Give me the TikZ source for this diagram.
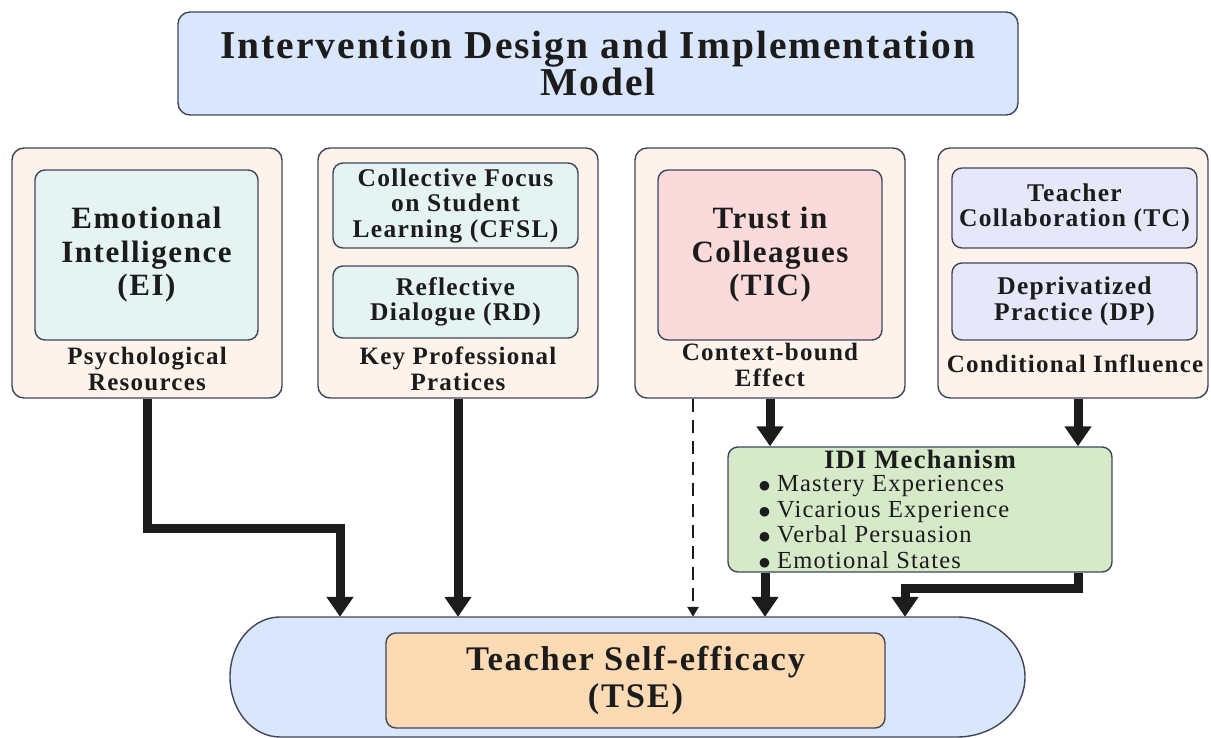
\documentclass[tikz,border=0pt]{standalone}
\usepackage{fontspec}
\setmainfont{Liberation Serif}[LetterSpace=5]
\newfontfamily\dotfont{DejaVu Sans}
\usetikzlibrary{arrows.meta}

\definecolor{edge}{HTML}{40465A}
\definecolor{ink}{HTML}{1C1C1C}
\definecolor{titlefill}{HTML}{DAE6FB}
\definecolor{creamfill}{HTML}{FDF3EA}
\definecolor{tealfill}{HTML}{E5F4F2}
\definecolor{pinkfill}{HTML}{FADADB}
\definecolor{lavfill}{HTML}{E6E8FA}
\definecolor{greenfill}{HTML}{D6E9C9}
\definecolor{pillfill}{HTML}{D9E6FB}
\definecolor{peachfill}{HTML}{FCDAB4}

% round list marker
\newcommand\itemdot{\raisebox{2pt}{\dotfont\fontsize{12.5}{12.5}\selectfont ●}\hspace{7pt}}

\tikzset{
  panel/.style={draw=edge, line width=1.4pt, rounded corners=12pt, inner sep=0pt,
    fill=creamfill},
  inbox/.style={draw=edge, line width=1.4pt, rounded corners=10pt, inner sep=0pt,
    align=center, text=ink},
  bigtxt/.style={font=\bfseries\fontsize{31}{33.5}\selectfont},
  midtxt/.style={font=\bfseries\fontsize{25.5}{25.5}\selectfont},
  caption/.style={align=center, text=ink, inner sep=0pt,
    font=\bfseries\fontsize{25}{26}\selectfont},
  flow/.style={draw=ink, line width=9pt, -{Triangle[width=26pt,length=20pt]}},
  weakflow/.style={draw=ink, line width=2.6pt, dash pattern=on 13pt off 8pt,
    -{Triangle[width=11pt,length=10pt]}},
}

\begin{document}
\begin{tikzpicture}[x=1pt,y=-1pt]
\useasboundingbox (0,0) rectangle (1211,738);

% heading
\node[draw=edge, line width=1.4pt, rounded corners=12pt, fill=titlefill,
  minimum width=840, minimum height=103, inner sep=0pt, align=center, text=ink,
  font=\bfseries\fontsize{39.5}{37}\selectfont]
  (title) at (598,63.5) {Intervention Design and Implementation\\Model};

% column 1
\node[panel, minimum width=270, minimum height=250] (box1) at (147,273) {};
\node[inbox, fill=tealfill, minimum width=223, minimum height=170, bigtxt]
  (ei) at (146.5,255) {Emotional\\Intelligence\\(EI)};
\node[caption] (cap1) at (147,369) {Psychological\\Resources};

% column 2
\node[panel, minimum width=280, minimum height=250] (box2) at (458,273) {};
\node[inbox, fill=tealfill, minimum width=245, minimum height=85, midtxt]
  (cfsl) at (455.5,205.5) {Collective Focus\\on Student\\Learning (CFSL)};
\node[inbox, fill=tealfill, minimum width=245, minimum height=72, midtxt]
  (rd) at (455.5,302) {Reflective\\Dialogue (RD)};
\node[caption] (cap2) at (458,369) {Key Professional\\Pratices};

% column 3
\node[panel, minimum width=270, minimum height=250] (box3) at (770,273) {};
\node[inbox, fill=pinkfill, minimum width=224, minimum height=170, bigtxt]
  (tic) at (770,255) {Trust in\\Colleagues\\(TIC)};
\node[caption] (cap3) at (770,365) {Context-bound\\Effect};

% column 4
\node[panel, minimum width=270, minimum height=250] (box4) at (1073,273) {};
\node[inbox, fill=lavfill, minimum width=245, minimum height=80, midtxt]
  (tc) at (1074.5,208) {Teacher\\Collaboration (TC)};
\node[inbox, fill=lavfill, minimum width=245, minimum height=77, midtxt]
  (dp) at (1074.5,301.5) {Deprivatized\\Practice (DP)};
\node[caption] (cap4) at (1075,364) {Conditional Influence};

% mechanism box
\node[draw=edge, line width=1.4pt, rounded corners=10pt, fill=greenfill,
  minimum width=384, minimum height=125, inner sep=0pt] (idi) at (920,509.5) {};
\node[text=ink, inner sep=0pt, font=\bfseries\fontsize{26.5}{28}\selectfont]
  (idititle) at (920,459) {IDI Mechanism};
\node[anchor=west, align=left, text=ink, inner sep=0pt,
  font=\fontsize{24.5}{25.5}\selectfont]
  (idilist) at (759,522) {\itemdot Mastery Experiences\\
    \itemdot Vicarious Experience\\
    \itemdot Verbal Persuasion\\
    \itemdot Emotional States};

% outcome capsule
\node[minimum width=795, minimum height=120, inner sep=0pt] (pill) at (627.5,677) {};
\draw[draw=edge, line width=1.4pt, fill=pillfill]
  (280,617) -- (957,617)
  arc[start angle=90, end angle=-90, x radius=68pt, y radius=60pt]
  -- (280,737)
  arc[start angle=270, end angle=90, x radius=50pt, y radius=60pt] -- cycle;
\node[draw=edge, line width=1.4pt, rounded corners=10pt, fill=peachfill,
  minimum width=499, minimum height=95, inner sep=0pt, align=center, text=ink,
  font=\bfseries\fontsize{34.5}{37}\selectfont]
  (tse) at (635.5,680.5) {Teacher Self-efficacy\\(TSE)};

% routing points
\coordinate (bendA) at (340,528);
\coordinate (dashx) at (693,0);
\coordinate (outL) at (765,0);
\coordinate (outR) at (1078,0);
\coordinate (bendB) at (905,588);

% connectors
\draw[flow] (box1.south) |- (bendA) -- (bendA |- pill.north);
\draw[flow] (box2.south) -- (box2.south |- pill.north);
\draw[weakflow] (dashx |- box3.south) -- (dashx |- pill.north);
\draw[flow] (box3.south) -- (box3.south |- idi.north);
\draw[flow] (outR |- box4.south) -- (outR |- idi.north);
\draw[flow] (outL |- idi.south) -- (outL |- pill.north);
\draw[flow] (outR |- idi.south) |- (bendB) -- (bendB |- pill.north);
\end{tikzpicture}
\end{document}
